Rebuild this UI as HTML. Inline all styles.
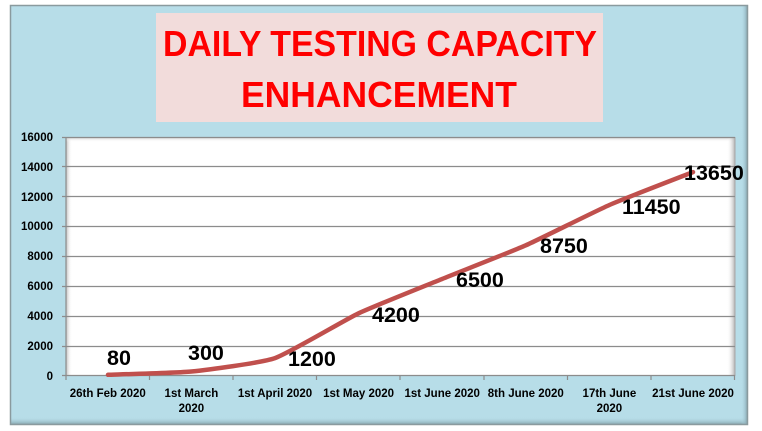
<!DOCTYPE html>
<html><head><meta charset="utf-8"><style>
html,body{margin:0;padding:0;background:#fff;}
svg{display:block;}
</style></head><body>
<svg width="762" height="431" viewBox="0 0 762 431" xmlns="http://www.w3.org/2000/svg" font-family="'Liberation Sans', sans-serif">
<defs>
<linearGradient id="gb" x1="0" y1="0" x2="0" y2="1"><stop offset="0" stop-color="#b7dde8" stop-opacity="0"/><stop offset="1" stop-color="#7c9aa3"/></linearGradient>
<linearGradient id="gr" x1="0" y1="0" x2="1" y2="0"><stop offset="0" stop-color="#b7dde8" stop-opacity="0"/><stop offset="1" stop-color="#7c9aa3"/></linearGradient>
<linearGradient id="pl" x1="0" y1="0" x2="1" y2="0"><stop offset="0" stop-color="#bdbdbd"/><stop offset="1" stop-color="#fff" stop-opacity="0"/></linearGradient>
<linearGradient id="pt" x1="0" y1="0" x2="0" y2="1"><stop offset="0" stop-color="#c8c8c8"/><stop offset="1" stop-color="#fff" stop-opacity="0"/></linearGradient>
<linearGradient id="pr" x1="0" y1="0" x2="1" y2="0"><stop offset="0" stop-color="#fff" stop-opacity="0"/><stop offset="1" stop-color="#b0b0b0"/></linearGradient>
</defs>
<!-- outer frame -->
<rect x="10" y="5" width="738" height="420" fill="#b7dde8"/>
<rect x="10" y="417" width="738" height="8" fill="url(#gb)"/>
<rect x="741" y="5" width="7" height="420" fill="url(#gr)"/>
<rect x="10.5" y="5.5" width="737" height="419" fill="none" stroke="#8a9a9e" stroke-width="1.5"/>
<!-- title box -->
<rect x="156" y="13" width="447" height="109" fill="#f2dcdb"/>
<text x="380" y="56" text-anchor="middle" font-weight="bold" font-size="36" fill="#ff0000" textLength="434" lengthAdjust="spacingAndGlyphs">DAILY TESTING CAPACITY</text>
<text x="379" y="107" text-anchor="middle" font-weight="bold" font-size="36" fill="#ff0000" textLength="276" lengthAdjust="spacingAndGlyphs">ENHANCEMENT</text>
<!-- plot area -->
<rect x="66" y="137" width="669" height="239" fill="#fff"/>
<rect x="66" y="137" width="6" height="239" fill="url(#pl)"/>
<rect x="66" y="137" width="669" height="5" fill="url(#pt)"/>
<rect x="727" y="137" width="8" height="239" fill="url(#pr)"/>
<line x1="66" y1="137.5" x2="735" y2="137.5" stroke="#9a9a9a" stroke-width="1"/>
<line x1="735" y1="137" x2="735" y2="376" stroke="#a8a8a8" stroke-width="1"/>
<g stroke="#8c8c8c" stroke-width="1.2">
<line x1="62" y1="137.5" x2="735" y2="137.5"/>
<line x1="62" y1="166.5" x2="735" y2="166.5"/>
<line x1="62" y1="196.5" x2="735" y2="196.5"/>
<line x1="62" y1="226.5" x2="735" y2="226.5"/>
<line x1="62" y1="256.5" x2="735" y2="256.5"/>
<line x1="62" y1="286.5" x2="735" y2="286.5"/>
<line x1="62" y1="316.5" x2="735" y2="316.5"/>
<line x1="62" y1="346.5" x2="735" y2="346.5"/>
<line x1="62" y1="375.5" x2="735" y2="375.5"/>
<line x1="66" y1="137" x2="66" y2="376"/>
<line x1="66" y1="376" x2="66" y2="380"/>
<line x1="149.5" y1="376" x2="149.5" y2="380"/>
<line x1="233" y1="376" x2="233" y2="380"/>
<line x1="316.5" y1="376" x2="316.5" y2="380"/>
<line x1="400" y1="376" x2="400" y2="380"/>
<line x1="484" y1="376" x2="484" y2="380"/>
<line x1="567.5" y1="376" x2="567.5" y2="380"/>
<line x1="651" y1="376" x2="651" y2="380"/>
<line x1="734.5" y1="376" x2="734.5" y2="380"/>
</g>
<!-- y labels -->
<g font-weight="bold" font-size="11.5" fill="#000" text-anchor="end">
<text x="53" y="141">16000</text>
<text x="53" y="171">14000</text>
<text x="53" y="201">12000</text>
<text x="53" y="230">10000</text>
<text x="53" y="260">8000</text>
<text x="53" y="290">6000</text>
<text x="53" y="320">4000</text>
<text x="53" y="350">2000</text>
<text x="53" y="380">0</text>
</g>
<!-- x labels -->
<g font-weight="bold" font-size="11.5" fill="#000" text-anchor="middle">
<text x="107.8" y="397">26th Feb 2020</text>
<text x="191.4" y="397">1st March</text>
<text x="191.4" y="412">2020</text>
<text x="275" y="397">1st April 2020</text>
<text x="358.6" y="397">1st May 2020</text>
<text x="442.2" y="397">1st June 2020</text>
<text x="525.8" y="397">8th June 2020</text>
<text x="609.4" y="397">17th June</text>
<text x="609.4" y="412">2020</text>
<text x="693" y="397">21st June 2020</text>
</g>
<!-- series -->
<path d="M108,374.8 C114.95,374.53 177.48,372.89 191.4,371.5 C205.32,370.11 261.07,362.95 275,358.1 C288.93,353.25 344.67,319.9 358.6,313.3 C372.53,306.7 428.27,284.57 442.2,278.9 C456.13,273.23 511.87,251.46 525.8,245.3 C539.73,239.14 595.47,211.1 609.4,205 C623.33,198.9 686.03,174.84 693,172.1" fill="none" stroke="#c0504d" stroke-width="4.5" stroke-linecap="round" stroke-linejoin="round"/>
<!-- data labels -->
<g font-weight="bold" font-size="21.5" fill="#000">
<text x="107" y="365">80</text>
<text x="188" y="360">300</text>
<text x="288" y="366">1200</text>
<text x="372" y="322">4200</text>
<text x="456" y="287">6500</text>
<text x="540" y="253">8750</text>
<text x="622" y="214">11450</text>
<text x="684" y="180">13650</text>
</g>
</svg>
</body></html>
